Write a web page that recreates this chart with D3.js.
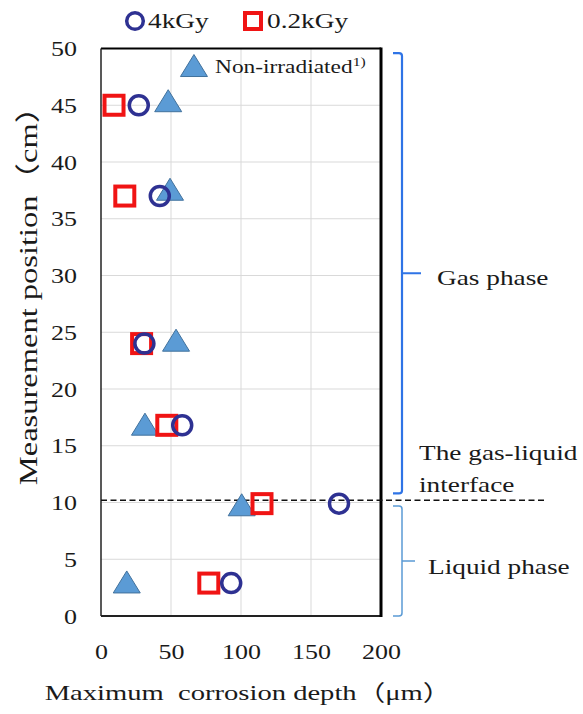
<!DOCTYPE html>
<html>
<head>
<meta charset="utf-8">
<script src="https://cdn.jsdelivr.net/npm/d3@7"></script>
<style>
  html, body { margin: 0; padding: 0; background: #fff; }
  svg { display: block; }
  text { font-family: "Liberation Serif", "Times New Roman", "Noto Sans CJK JP", serif; fill: #1a1a1a; }
</style>
</head>
<body>
<svg id="chart" width="583" height="714"></svg>
<script>
// ---- data ----
const seriesNames = ["4kGy", "0.2kGy", "Non-irradiated"];
const pos4k   = [45, 37, 24, 16.8, 9.9, 2.9];
const depth4k = [27, 42, 31, 58, 170, 93];
const pos02k   = [45, 37, 24, 16.8, 9.9, 2.9];
const depth02k = [9.3, 17, 29, 47, 115, 77];
const posNon   = [45.4, 37.6, 24.3, 16.9, 9.8, 3.0];
const depthNon = [48, 49.3, 53.6, 31.4, 100.5, 18.4];
const xTicks = [0, 50, 100, 150, 200];
const yTicks = [0, 5, 10, 15, 20, 25, 30, 35, 40, 45, 50];
const interfacePos = 10.2;
const gasRange = [10.8, 49.6];
const liquidRange = [0, 9.7];
const legendTrianglePoint = [66.4, 48.5];

// ---- layout ----
const SX = 1.3; // horizontal stretch of the text in the reference
const svg = d3.select("#chart");
const x = d3.scaleLinear().domain([0, 200]).range([101, 381]);
const y = d3.scaleLinear().domain([0, 50]).range([616, 48.5]);

function stxt(parent, px, py, str, size, anchor) {
  return parent.append("text")
    .attr("transform", `translate(${px},${py}) scale(${SX},1)`)
    .attr("text-anchor", anchor || "start")
    .style("font-size", size + "px")
    .style("white-space", "pre")
    .text(str);
}

// gridlines
const grid = svg.append("g");
grid.selectAll("line.v").data(xTicks.slice(1, -1)).join("line")
  .attr("x1", d => x(d)).attr("x2", d => x(d))
  .attr("y1", y(50)).attr("y2", y(0))
  .attr("stroke", "#d9d9d9").attr("stroke-width", 1);
grid.selectAll("line.h").data(yTicks.slice(1, -1)).join("line")
  .attr("x1", x(0)).attr("x2", x(200))
  .attr("y1", d => y(d)).attr("y2", d => y(d))
  .attr("stroke", "#d9d9d9").attr("stroke-width", 1);

// axes (labels only)
const yAxis = svg.append("g").attr("transform", `translate(${x(0)},0)`)
  .call(d3.axisLeft(y).tickValues(yTicks).tickSize(0));
yAxis.select(".domain").remove();
yAxis.selectAll("text")
  .attr("x", null).attr("dy", null)
  .attr("transform", `translate(-24,7) scale(${SX},1)`)
  .attr("text-anchor", "end")
  .style("font-size", "20px").style("font-family", "'Liberation Serif', serif").attr("fill", "#1a1a1a");

const xAxis = svg.append("g").attr("transform", `translate(0,${y(0)})`)
  .call(d3.axisBottom(x).tickValues(xTicks).tickSize(0));
xAxis.select(".domain").remove();
xAxis.selectAll("text")
  .attr("y", null).attr("dy", null)
  .attr("transform", `translate(0,43) scale(${SX},1)`)
  .attr("text-anchor", "middle")
  .style("font-size", "20px").style("font-family", "'Liberation Serif', serif").attr("fill", "#1a1a1a");

// frame
const fx0 = x(0), fx1 = x(200), fy0 = y(50), fy1 = y(0);
svg.append("line").attr("x1", fx0).attr("x2", fx1).attr("y1", fy0).attr("y2", fy0).attr("stroke", "#000").attr("stroke-width", 2);
svg.append("line").attr("x1", fx0).attr("x2", fx1).attr("y1", fy1).attr("y2", fy1).attr("stroke", "#222").attr("stroke-width", 2);
svg.append("line").attr("x1", fx0).attr("x2", fx0).attr("y1", fy0).attr("y2", fy1).attr("stroke", "#222").attr("stroke-width", 1.5);
svg.append("line").attr("x1", fx1).attr("x2", fx1).attr("y1", fy0 - 1).attr("y2", fy1 + 1).attr("stroke", "#000").attr("stroke-width", 3);

// interface dashed line
svg.append("line")
  .attr("x1", fx0).attr("x2", 545)
  .attr("y1", y(interfacePos)).attr("y2", y(interfacePos))
  .attr("stroke", "#111").attr("stroke-width", 1.6)
  .attr("stroke-dasharray", "6,3.5");

// markers
function triPath(cx, cy) {
  const w = 13.5, h = 11;
  return `M${cx},${cy - h}L${cx + w},${cy + h}L${cx - w},${cy + h}Z`;
}

const nonData = depthNon.map((d, i) => ({ d, p: posNon[i] }));
const d02 = depth02k.map((d, i) => ({ d, p: pos02k[i] }));
const d4 = depth4k.map((d, i) => ({ d, p: pos4k[i] }));

svg.append("g").selectAll("path").data(nonData).join("path")
  .attr("d", v => triPath(x(v.d), y(v.p)))
  .attr("fill", "#5b9bd5").attr("stroke", "#41719c").attr("stroke-width", 1);

svg.append("g").selectAll("rect").data(d02).join("rect")
  .attr("x", v => x(v.d) - 9.5).attr("y", v => y(v.p) - 9.5)
  .attr("width", 19).attr("height", 19)
  .attr("fill", "none").attr("stroke", "#f01414").attr("stroke-width", 4);

svg.append("g").selectAll("circle").data(d4).join("circle")
  .attr("cx", v => x(v.d)).attr("cy", v => y(v.p)).attr("r", 9.5)
  .attr("fill", "none").attr("stroke", "#2e3192").attr("stroke-width", 3.5);

// legend (top)
svg.append("circle").attr("cx", 135).attr("cy", 21).attr("r", 8.3)
  .attr("fill", "none").attr("stroke", "#2e3192").attr("stroke-width", 3.5);
stxt(svg, 148, 28, seriesNames[0], 21);
svg.append("rect").attr("x", 245).attr("y", 13).attr("width", 16).attr("height", 16)
  .attr("fill", "none").attr("stroke", "#f01414").attr("stroke-width", 4);
stxt(svg, 267, 28, seriesNames[1], 21);

// legend (triangle inside plot)
const lt = legendTrianglePoint;
svg.append("path").attr("d", triPath(x(lt[0]), y(lt[1])))
  .attr("fill", "#5b9bd5").attr("stroke", "#41719c").attr("stroke-width", 1);
const nonTxt = stxt(svg, 215, 73, seriesNames[2], 18);
nonTxt.append("tspan").attr("dy", -7).style("font-size", "12px").text("1)");

// brackets
function bracket(top, bottom, color, width, tickLen) {
  const vx = 402, hx = 393;
  const ty = y(top), by = y(bottom), my = (ty + by) / 2;
  svg.append("path")
    .attr("d", `M${hx},${ty}L${vx - 3},${ty}Q${vx},${ty} ${vx},${ty + 3}L${vx},${by - 3}Q${vx},${by} ${vx - 3},${by}L${hx},${by}M${vx},${my}L${vx + tickLen},${my}`)
    .attr("fill", "none").attr("stroke", color).attr("stroke-width", width);
  return my;
}
const gm = bracket(gasRange[1], gasRange[0], "#2f74e6", 2.2, 19);
stxt(svg, 437, gm + 12, "Gas phase", 21);
const lm = bracket(liquidRange[1], liquidRange[0], "#5b9bd5", 1.5, 13);
stxt(svg, 428, lm + 13, "Liquid phase", 21);

stxt(svg, 419, 460, "The gas-liquid", 21);
stxt(svg, 419, 492, "interface", 21);

// axis titles
stxt(svg, 248, 700, "Maximum  corrosion depth（μm）", 22, "middle");
svg.append("text")
  .attr("transform", `translate(37,288) rotate(-90) scale(${SX},1)`)
  .attr("text-anchor", "middle")
  .style("font-size", "25px")
  .text("Measurement position（cm）");
</script>
</body>
</html>
